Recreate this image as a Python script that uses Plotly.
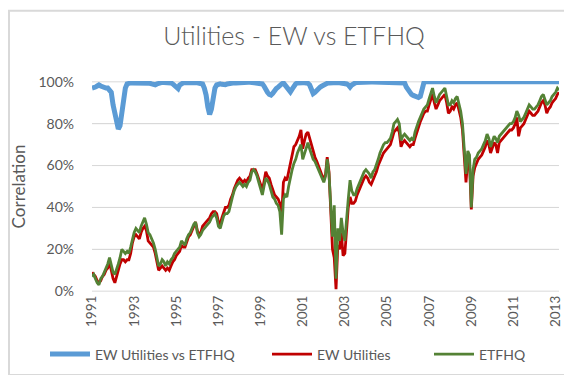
import pandas as pd
import plotly.graph_objects as go

# Monthly readings (percent), Jan 1991 .. Mar 2013
corr_ew_vs_etfhq = [
    97, 97, 97.5, 98, 98.5, 98, 97.5, 97.5, 97, 97, 96, 95,            # 1991
    89, 84, 80, 77.5, 79, 85, 93, 97, 99, 99.5, 99.5, 99.5,            # 1992
    99.5, 99.6, 99.6, 99.7, 99.7, 99.7, 99.6, 99.5, 99.5, 99.3, 99, 98.7,  # 1993
    98.6, 99, 99.4, 99.6, 99.7, 99.7, 99.7, 99.6, 99.6, 99.5, 99, 98.3,    # 1994
    97.5, 96.8, 98.5, 99.3, 99.5, 99.6, 99.7, 99.7, 99.7, 99.7, 99.6, 99.6,  # 1995
    99.5, 99.5, 99.5, 99, 97, 93.7, 88, 84.4, 87, 93.7, 97, 98.5,      # 1996
    99, 99, 98.8, 98.6, 98.6, 99, 99.2, 99.5, 99.5, 99.5, 99.5, 99.6,  # 1997
    99.8, 99.8, 99.8, 99.8, 99.8, 99.8, 99.8, 99.7, 99.7, 99.6, 99.6, 99.5,  # 1998
    99.5, 99, 98, 96, 95, 94, 93.7, 94.5, 96, 96.8, 97.5, 98.5,        # 1999
    99, 99.5, 98.5, 97, 95.5, 95.2, 96.5, 98.3, 99, 99.5, 99.7, 99.7,  # 2000
    99.6, 99.5, 99.5, 99.3, 98.5, 96, 94.4, 95, 96, 96.8, 97.5, 98,    # 2001
    98.6, 99, 99.3, 99.5, 99.6, 99.8, 99.8, 99.8, 99.7, 99.6, 99.5, 99.5,  # 2002
    99.5, 99, 98.5, 97.5, 98.5, 99.3, 99.5, 99.7, 99.8, 99.8, 99.8, 99.8,  # 2003
    99.9, 99.9, 99.9, 99.9, 99.9, 99.9, 99.9, 99.9, 99.9, 99.9, 99.9, 99.9,  # 2004
    99.9, 99.9, 99.9, 99.9, 99.9, 99.9, 99.9, 99.9, 99.9, 99.9, 99.5, 97.5,  # 2005
    96, 94.5, 94, 93.5, 93, 92.7, 92.5, 93, 96, 99.5, 100, 100,        # 2006
    100, 100, 100, 100, 100, 100, 100, 100, 100, 100, 100, 100,        # 2007
    100, 100, 100, 100, 100, 100, 100, 100, 100, 100, 100, 100,        # 2008
    100, 100, 100, 100, 100, 99.6, 99.6, 99.7, 100, 100, 100, 100,     # 2009
    100, 100, 100, 100, 99.6, 99.5, 99.5, 99.5, 99.6, 99.6, 99.6, 99.6,  # 2010
    99.6, 99.8, 100, 100, 100, 100, 100, 100, 100, 100, 100, 100,      # 2011
    100, 100, 100, 100, 100, 100, 100, 100, 100, 100, 100, 100,        # 2012
    100, 100, 100,                                                      # 2013
]

ew_utilities = [
    9, 8, 7, 5, 4, 5, 7, 8, 10, 11, 14, 10,        # 1991
    6, 4, 7, 10, 13, 15, 15, 14, 15, 15, 18, 23,   # 1992
    26, 27, 26, 25, 28, 30, 31, 29, 24, 23, 22, 21,  # 1993
    18, 13, 10, 11, 12, 11, 10, 11, 10, 12, 14, 15,  # 1994
    17, 18, 19, 22, 21, 21, 24, 26, 27, 29, 31, 33,  # 1995
    29, 27, 28, 31, 32, 33, 34, 35, 37, 38, 38, 37,  # 1996
    33, 32, 35, 38, 40, 40, 41, 44, 46, 49, 51, 53,  # 1997
    54, 53, 52, 53, 52, 54, 55, 58, 58, 58, 56, 54,  # 1998
    51, 48, 53, 57, 55, 54, 51, 48, 46, 45, 44, 42,  # 1999
    36, 52, 54, 53, 57, 61, 65, 69, 70, 72, 74, 77,  # 2000
    68, 72, 75, 76, 73, 70, 66, 64, 62, 60, 58, 56,  # 2001
    53, 56, 64, 57, 38, 20, 16, 1, 22, 20, 28, 17,   # 2002
    18, 30, 40, 45, 42, 42, 43, 46, 48, 50, 52, 54,  # 2003
    55, 54, 52, 51, 53, 55, 57, 60, 62, 64, 66, 67,  # 2004
    68, 69, 70, 73, 76, 77, 78, 76, 69, 71, 72, 71,  # 2005
    70, 69, 70, 70, 73, 76, 79, 81, 83, 85, 86, 86,  # 2006
    89, 92, 94, 90, 87, 89, 91, 92, 93, 94, 90, 85,  # 2007
    86, 88, 87, 89, 90, 86, 83, 77, 62, 52, 63, 61,  # 2008
    39, 55, 59, 61, 63, 64, 65, 67, 69, 72, 70, 66,  # 2009
    69, 71, 70, 66, 71, 72, 73, 74, 75, 76, 77, 77,  # 2010
    78, 80, 83, 74, 78, 79, 80, 82, 84, 86, 85, 84,  # 2011
    84, 85, 86, 88, 90, 91, 89, 85, 87, 88, 90, 91,  # 2012
    92, 94, 95,                                       # 2013
]

etfhq = [
    7, 8, 6, 4, 3, 6, 7, 9, 11, 13, 16, 12,        # 1991
    9, 8, 10, 13, 16, 20, 19, 18, 19, 18, 21, 25,  # 1992
    28, 30, 29, 28, 31, 33, 35, 32, 28, 27, 25, 23,  # 1993
    20, 16, 12, 13, 15, 14, 12, 14, 13, 15, 16, 18,  # 1994
    19, 20, 21, 24, 23, 22, 25, 27, 28, 30, 32, 33,  # 1995
    28, 26, 27, 29, 30, 31, 32, 33, 35, 36, 37, 35,  # 1996
    31, 30, 33, 36, 37, 37, 38, 42, 45, 48, 50, 51,  # 1997
    52, 51, 50, 51, 50, 52, 53, 57, 58, 57, 55, 52,  # 1998
    49, 46, 50, 54, 53, 51, 48, 45, 44, 42, 41, 38,  # 1999
    27, 44, 46, 45, 50, 55, 58, 61, 63, 66, 68, 70,  # 2000
    63, 66, 68, 71, 68, 65, 63, 62, 60, 58, 56, 54,  # 2001
    52, 55, 63, 56, 38, 26, 41, 6, 30, 24, 35, 28,   # 2002
    24, 36, 44, 53, 48, 46, 46, 49, 51, 53, 55, 57,  # 2003
    58, 57, 56, 54, 57, 58, 60, 63, 66, 68, 70, 71,  # 2004
    71, 72, 73, 76, 80, 81, 82, 80, 72, 74, 75, 74,  # 2005
    73, 72, 73, 72, 76, 79, 81, 83, 85, 87, 88, 89,  # 2006
    92, 95, 97, 93, 90, 92, 94, 95, 96, 97, 93, 89,  # 2007
    89, 91, 90, 92, 93, 89, 86, 80, 66, 56, 67, 65,  # 2008
    40, 58, 63, 64, 66, 67, 68, 70, 72, 75, 73, 69,  # 2009
    72, 74, 73, 71, 74, 75, 76, 77, 78, 79, 80, 80,  # 2010
    81, 83, 86, 84, 81, 82, 83, 85, 87, 89, 88, 87,  # 2011
    87, 88, 89, 91, 93, 94, 92, 89, 90, 91, 93, 94,  # 2012
    95, 97, 96,                                       # 2013
]

tick_years = ["1991", "1993", "1995", "1997", "1999", "2001",
              "2003", "2005", "2007", "2009", "2011", "2013"]
y_ticks = [0, 20, 40, 60, 80, 100]
y_tick_labels = ["0%", "20%", "40%", "60%", "80%", "100%"]
x_range = ["1991-01-01", "2013-03-01"]

dates = pd.date_range("1991-01-01", periods=len(etfhq), freq="MS")

FONT = "Lato"
GREY = "#595959"
GRID = "#D9D9D9"
BORDER = "#D9D9D9"
L, T, PW, PH = 84, 73, 467, 216


def px_x(p):
    return (p - L) / PW


def px_y(p):
    return (T + PH - p) / PH


fig = go.Figure()

# horizontal gridlines as a background line trace (one segment per y tick)
grid_x, grid_y = [], []
for v in y_ticks:
    grid_x += [x_range[0], x_range[1], None]
    grid_y += [v, v, None]
fig.add_trace(go.Scatter(x=grid_x, y=grid_y, mode="lines",
                         line=dict(color=GRID, width=1),
                         hoverinfo="skip", showlegend=False))

fig.add_trace(go.Scatter(x=dates, y=corr_ew_vs_etfhq, mode="lines",
                         name="EW Utilities vs ETFHQ", legend="legend",
                         showlegend=True,
                         line=dict(color="#5B9BD5", width=5)))
fig.add_trace(go.Scatter(x=dates, y=ew_utilities, mode="lines",
                         name="EW Utilities", legend="legend2",
                         showlegend=True,
                         line=dict(color="#C00000", width=2.8)))
fig.add_trace(go.Scatter(x=dates, y=etfhq, mode="lines",
                         name="ETFHQ", legend="legend3",
                         showlegend=True,
                         line=dict(color="#548235", width=2.8)))

leg_common = dict(orientation="h", xanchor="left", yanchor="middle",
                  y=px_y(353), font=dict(size=14, color=GREY, family=FONT),
                  bgcolor="rgba(0,0,0,0)", borderwidth=0, itemwidth=40,
                  visible=True)

fig.update_layout(
    template="none",
    showlegend=True,
    width=572, height=375,
    margin=dict(l=L, r=572 - L - PW, t=T, b=375 - T - PH, pad=0),
    paper_bgcolor="white", plot_bgcolor="white",
    font=dict(family=FONT, color=GREY),
    title=dict(text="Utilities - EW vs ETFHQ", x=0.5, xanchor="center",
               xref="container", y=1 - 28 / 375, yanchor="middle",
               yref="container",
               font=dict(size=25, color=GREY, family=FONT, weight=300)),
    xaxis=dict(type="date", range=x_range,
               tickmode="array",
               tickvals=[pd.Timestamp(f"{y}-01-01") for y in tick_years],
               ticktext=tick_years, tickangle=-90,
               tickfont=dict(size=13.5, color=GREY),
               showgrid=False, zeroline=False, showline=False, ticks=""),
    yaxis=dict(range=[-0.4, 100.4], tickmode="array", tickvals=y_ticks,
               ticktext=y_tick_labels,
               tickfont=dict(size=14, color=GREY), ticklabelstandoff=17,
               showgrid=True, gridcolor=GRID, gridwidth=1,
               zeroline=False, showline=False, ticks="",
               title=dict(text="Correlation", font=dict(size=17, color=GREY),
                          standoff=8)),
    legend=dict(leg_common, x=px_x(37)),
    legend2=dict(leg_common, x=px_x(259)),
    legend3=dict(leg_common, x=px_x(421)),
    shapes=[dict(type="rect", xref="paper", yref="paper",
                 x0=px_x(1), x1=px_x(571),
                 y0=px_y(374), y1=px_y(1),
                 line=dict(color=BORDER, width=2),
                 fillcolor="rgba(0,0,0,0)", layer="above")],
)

fig.write_html("out.html")
